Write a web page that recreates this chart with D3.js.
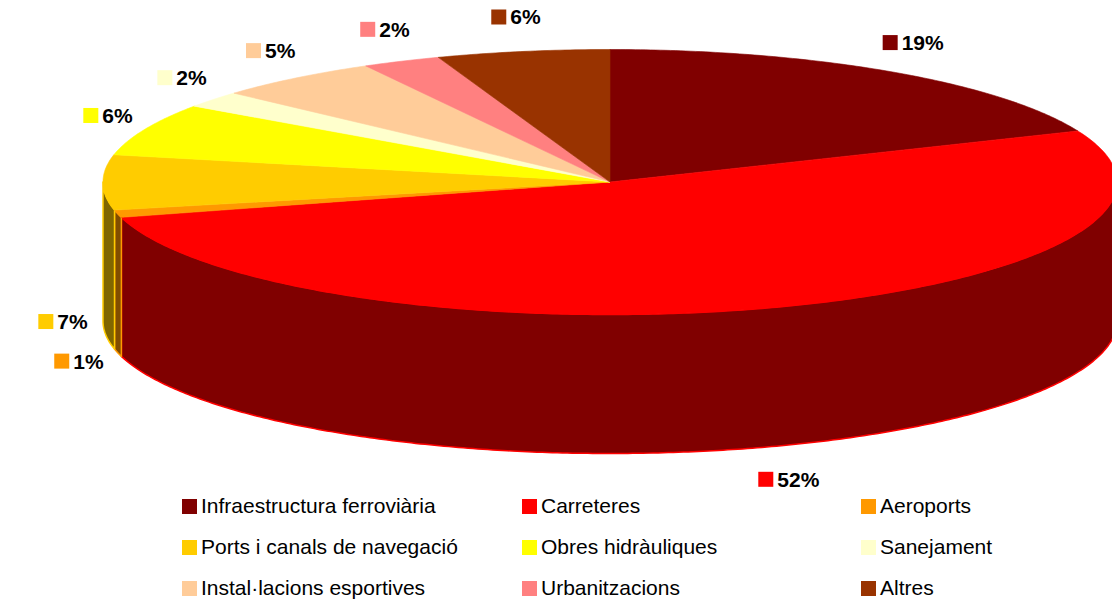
<!DOCTYPE html>
<html>
<head>
<meta charset="utf-8">
<script src="https://cdn.jsdelivr.net/npm/d3@7"></script>
<style>
  html, body { margin: 0; padding: 0; background: #fff; }
  svg { display: block; font-family: "Liberation Sans", Arial, sans-serif; }
</style>
</head>
<body>
<div id="chart"></div>
<script>
const categories = [
  "Infraestructura ferroviària",
  "Carreteres",
  "Aeroports",
  "Ports i canals de navegació",
  "Obres hidràuliques",
  "Sanejament",
  "Instal·lacions esportives",
  "Urbanitzacions",
  "Altres",
];
const shares = [18.7, 52.0, 0.9, 6.7, 6.4, 2.0, 5.3, 2.5, 5.5];
const percentLabels = ["19%", "52%", "1%", "7%", "6%", "2%", "5%", "2%", "6%"];
const colors = ["#800000", "#ff0000", "#ff9900", "#ffcc00", "#ffff00", "#ffffcc", "#ffcc99", "#ff8080", "#993300"];

document.addEventListener("DOMContentLoaded", function () {
  const width = 1112;
  const height = 599;

  // ellipse geometry of the pie top and the depth of the side wall
  const cx = 610, cy = 182, rx = 507, ry = 132.5, depth = 139;

  const svg = d3
    .select("#chart")
    .append("svg")
    .attr("width", width)
    .attr("height", height);

  const data = categories.map((c, i) => ({ name: c, value: shares[i], label: percentLabels[i], color: colors[i] }));

  const pie = d3.pie().value((d) => d.value).sort(null);
  const arcs = pie(data);

  const px = (a) => cx + rx * Math.sin(a);
  const py = (a) => cy - ry * Math.cos(a);
  const line = d3.line();

  function arcPoints(a0, a1, dy) {
    const n = Math.max(2, Math.ceil(Math.abs(a1 - a0) / 0.01));
    return d3.range(n + 1).map((k) => {
      const a = a0 + ((a1 - a0) * k) / n;
      return [px(a), py(a) + dy];
    });
  }

  // front walls (only the part of the rim facing the viewer)
  const walls = svg.append("g");
  arcs.forEach((d) => {
    const a0 = Math.max(d.startAngle, Math.PI / 2);
    const a1 = Math.min(d.endAngle, (3 * Math.PI) / 2);
    if (a1 <= a0) return;
    const pts = arcPoints(a0, a1, 0).concat(arcPoints(a1, a0, depth));
    walls
      .append("path")
      .attr("d", line(pts) + "Z")
      .attr("fill", d3.interpolateRgb(d.data.color, "#000")(0.5))
      .attr("stroke", d.data.color)
      .attr("stroke-width", 1.5)
      .attr("stroke-linejoin", "round");
  });

  // top surface
  const tops = svg.append("g");
  arcs.forEach((d) => {
    const pts = [[cx, cy]].concat(arcPoints(d.startAngle, d.endAngle, 0));
    tops
      .append("path")
      .attr("d", line(pts) + "Z")
      .attr("fill", d.data.color)
      .attr("stroke", d.data.color)
      .attr("stroke-width", 0.6);
  });

  // data labels: colour key + bold percentage
  const labels = svg.append("g");
  arcs.forEach((d) => {
    const mid = (d.startAngle + d.endAngle) / 2;
    const lx = cx + (rx + 40) * Math.sin(mid);
    const ly = cy - (ry + 35) * Math.cos(mid) + (Math.cos(mid) < 0.2 ? depth : 0);
    const g = labels.append("g");
    const t = g
      .append("text")
      .attr("font-size", 21)
      .attr("font-weight", "bold")
      .attr("fill", "#000")
      .text(d.data.label);
    const tw = t.node().getComputedTextLength();
    const total = 15 + 4 + tw;
    const x0 = lx - total / 2;
    const base = ly + 7.5;
    g.append("rect")
      .attr("x", x0)
      .attr("y", base - 15)
      .attr("width", 15)
      .attr("height", 15)
      .attr("fill", d.data.color);
    t.attr("x", x0 + 19).attr("y", base);
  });

  // legend, 3 columns x 3 rows
  const colX = [182, 522, 861];
  const rowY = [513, 554, 595];
  const legend = svg.append("g");
  data.forEach((d, i) => {
    const x = colX[i % 3];
    const y = rowY[Math.floor(i / 3)];
    legend
      .append("rect")
      .attr("x", x)
      .attr("y", y - 14)
      .attr("width", 15)
      .attr("height", 15)
      .attr("fill", d.color);
    legend
      .append("text")
      .attr("x", x + 19)
      .attr("y", y)
      .attr("font-size", 21)
      .attr("fill", "#000")
      .text(d.name);
  });
});
</script>
</body>
</html>
